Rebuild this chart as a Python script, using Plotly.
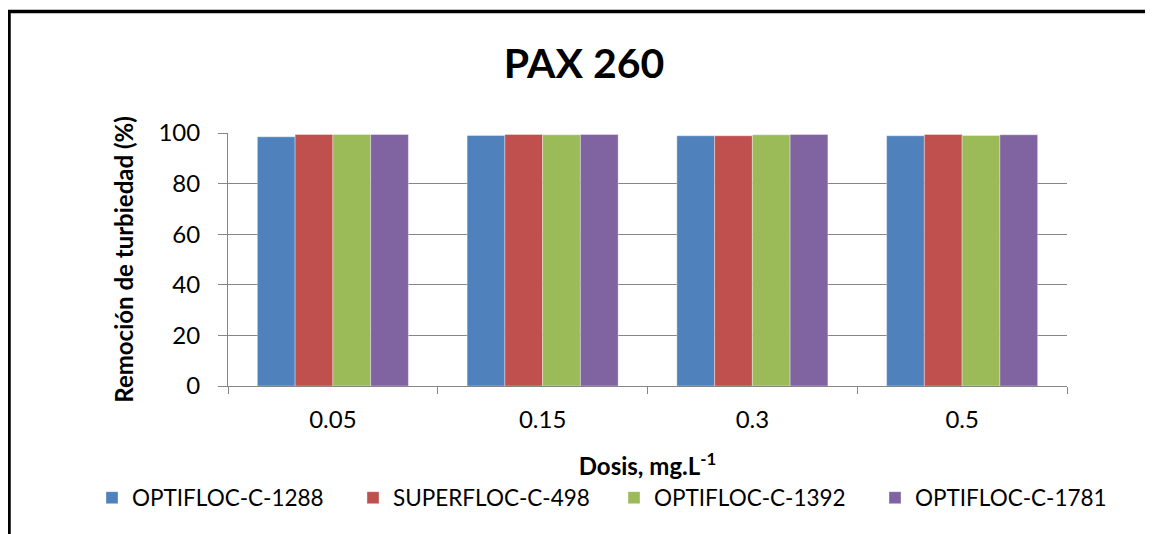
import plotly.graph_objects as go

categories = ["0.05", "0.15", "0.3", "0.5"]
series_names = ["OPTIFLOC-C-1288", "SUPERFLOC-C-498", "OPTIFLOC-C-1392", "OPTIFLOC-C-1781"]
optifloc_1288 = [98.5, 99.0, 98.9, 98.9]
superfloc_498 = [99.4, 99.4, 98.9, 99.4]
optifloc_1392 = [99.4, 99.3, 99.3, 99.0]
optifloc_1781 = [99.4, 99.4, 99.4, 99.3]
y_ticks = [0, 20, 40, 60, 80, 100]

colors = ["#4F81BD", "#C0504D", "#9BBB59", "#8064A2"]
values = [optifloc_1288, superfloc_498, optifloc_1392, optifloc_1781]

OFF = 8
W, H = 1153 - OFF, 534 - OFF
L, T = 228 - OFF, 133 - OFF
R = (1153 - 1067)
B = (534 - 386)
pw, ph = W - L - R, H - T - B

fig = go.Figure()
for name, vals, c in zip(series_names, values, colors):
    fig.add_trace(go.Bar(x=categories, y=vals, name=name,
                         marker=dict(color=c, line=dict(color="rgba(255,255,255,0.35)", width=1))))

font = "Lato, Carlito, 'Open Sans', sans-serif"

def px_x(sx):
    return (sx - OFF - L) / pw

def px_y(sy):
    return (H - B - (sy - OFF)) / ph

fig.update_layout(
    width=W, height=H,
    margin=dict(l=L, r=R, t=T, b=B),
    paper_bgcolor="white", plot_bgcolor="white",
    barmode="group", bargap=0.28, bargroupgap=0,
    font=dict(family=font, size=24, color="black"),
    title=dict(text="<b>PAX 260</b>", x=px_x(584), xanchor="center", xref="paper",
               y=1 - (64 - OFF) / H, yanchor="middle",
               font=dict(size=41, family=font, color="black")),
    xaxis=dict(type="category", tickson="boundaries", ticks="outside", ticklen=7,
               tickcolor="#868686", showline=True, linecolor="#868686", linewidth=1,
               showgrid=False, ticklabelstandoff=12,
               title=dict(text="<b>Dosis, mg.L<sup>-1</sup></b>", font=dict(size=24), standoff=26)),
    yaxis=dict(range=[0, 100], tickvals=y_ticks, ticks="outside", ticklen=9,
               tickcolor="#868686", showline=True, linecolor="#868686", linewidth=1,
               showgrid=True, gridcolor="#868686", gridwidth=1, zeroline=False,
               ticklabelstandoff=13,
               title=dict(text="<b>Remoción de turbiedad (%)</b>", font=dict(size=24), standoff=18)),
    legend=dict(orientation="h", x=px_x(92), xanchor="left", y=px_y(498), yanchor="middle",
                itemwidth=30, entrywidth=216, entrywidthmode="pixels",
                font=dict(size=22.5), bgcolor="rgba(0,0,0,0)", traceorder="normal"),
    shapes=[
        dict(type="line", xref="paper", yref="paper", x0=px_x(9), x1=px_x(9),
             y0=px_y(10), y1=px_y(560), line=dict(color="black", width=3.5)),
        dict(type="line", xref="paper", yref="paper", x0=px_x(7.5), x1=px_x(1180),
             y0=px_y(11.5), y1=px_y(11.5), line=dict(color="black", width=3.5)),
    ],
)

fig.write_html("out.html")
